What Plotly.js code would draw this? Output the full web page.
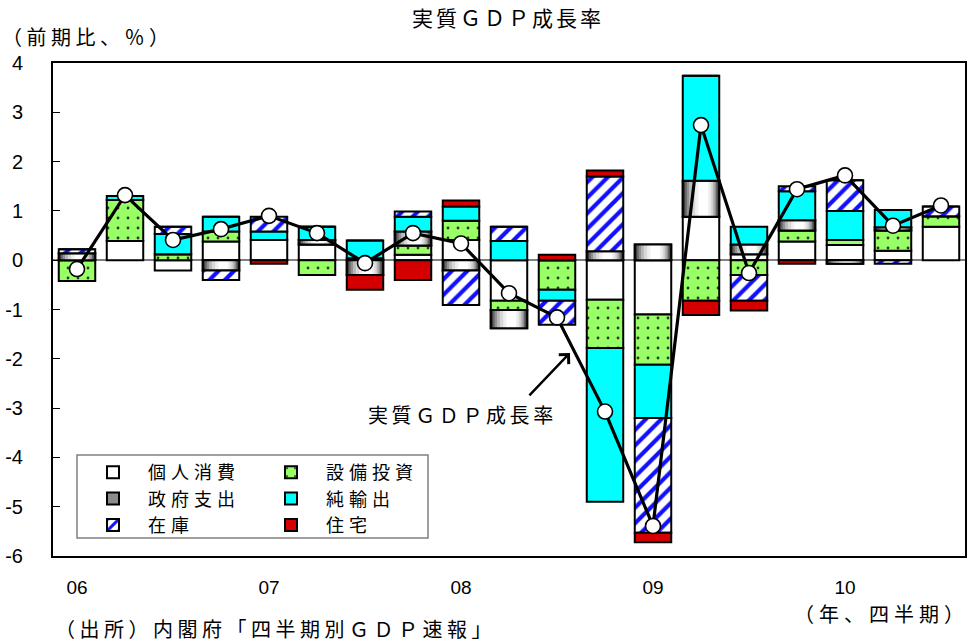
<!DOCTYPE html>
<html>
<head>
<meta charset="utf-8">
<script src="https://cdn.plot.ly/plotly-3.0.1.min.js"></script>
<style>
html,body{margin:0;padding:0;background:#ffffff;}
#chart{width:973px;height:642px;}
</style>
</head>
<body>
<div id="chart"></div>
<script>
// ---- data (contribution to real GDP growth, % q/q) ----
const quarters = ['06Q1','06Q2','06Q3','06Q4','07Q1','07Q2','07Q3','07Q4',
                  '08Q1','08Q2','08Q3','08Q4','09Q1','09Q2','09Q3','09Q4',
                  '10Q1','10Q2','10Q3'];
const consumption = [0, 0.39, -0.21, 0.38, 0.41, 0.32, 0.04, 0.11, 0.41, -0.82, 0, -0.80, -1.10, 0.88, 0.12, 0.38, 0.31, 0.19, 0.68];
const investment  = [-0.42, 0.83, 0.12, 0.20, 0, -0.30, 0, 0.19, 0.39, -0.19, -0.60, -0.98, -1.02, -0.82, -0.30, 0.22, 0.10, 0.41, 0.21];
const government  = [0.14, 0, 0, -0.21, 0, 0.09, -0.30, 0.28, -0.21, -0.37, 0, 0.18, 0.32, 0.73, 0.20, 0.21, -0.07, 0.07, 0];
const netExports  = [0, 0.08, 0.41, 0.30, 0.17, 0.27, 0.36, 0.30, 0.29, 0.39, -0.22, -3.12, -1.08, 2.13, 0.36, 0.59, 0.59, 0.35, 0];
const inventory   = [0.08, 0, 0.15, -0.19, 0.30, 0, 0, 0.11, -0.70, 0.29, -0.49, 1.52, -2.33, 0, -0.52, 0.10, 0.62, -0.07, 0.20];
const housing     = [0, 0, 0, 0, -0.07, 0, -0.30, -0.40, 0.12, 0, 0.11, 0.12, -0.19, -0.29, -0.20, -0.07, 0, 0, 0];
const gdpGrowth   = [-0.18, 1.32, 0.41, 0.63, 0.90, 0.55, -0.06, 0.55, 0.34, -0.67, -1.16, -3.07, -5.39, 2.74, -0.26, 1.44, 1.72, 0.70, 1.11];

const seriesNames = ['個人消費','設備投資','政府支出','純輸出','在庫','住宅'];
const lineName = '実質ＧＤＰ成長率';
const yearTickVals = ['06Q1','07Q1','08Q1','09Q1','10Q1'];
const yearTickText = ['06','07','08','09','10'];
const yRange = [-6, 4];
const yTickVals = [4, 3, 2, 1, 0, -1, -2, -3, -4, -5, -6];

const titleText = '実質ＧＤＰ成長率';
const unitText = '（前期比、％）';
const sourceText = '（出所）内閣府「四半期別ＧＤＰ速報」';
const periodText = '（年、四半期）';

// ---- styles ----
const jp = '"Noto Sans CJK JP", "Noto Sans", sans-serif';
const num = '"Liberation Sans", Arial, sans-serif';
const outline = {color: '#000000', width: 2};
const BAR_W = 0.76;
const spaced = (s, px) => '<span style="letter-spacing:' + px + 'px">' + s + '</span>';

// stacking (positive values stack upward, negative downward, in series order)
const stackOrder = [consumption, investment, government, netExports, inventory, housing];
const bases = (function () {
  const pos = quarters.map(() => 0), neg = quarters.map(() => 0);
  return stackOrder.map(vals => vals.map((v, i) => {
    let b;
    if (v >= 0) { b = pos[i]; pos[i] += v; } else { b = neg[i]; neg[i] += v; }
    return b;
  }));
})();

function barTrace(k, color, legendId, pattern) {
  const t = {
    type: 'bar', name: spaced(seriesNames[k], 5), x: quarters, y: stackOrder[k], base: bases[k],
    marker: {color: color, line: outline},
    legend: legendId, width: BAR_W, hoverinfo: 'skip'
  };
  if (pattern) t.marker.pattern = pattern;
  return t;
}

// horizontal grey gradient of 政府支出 drawn as nested bands (left, right as fraction of bar width)
const govBands = [
  [0.02, 0.98, '#3c3c3c'], [0.06, 0.95, '#656565'], [0.11, 0.91, '#909090'],
  [0.17, 0.87, '#b8b8b8'], [0.25, 0.82, '#d8d8d8'], [0.34, 0.76, '#efefef'],
  [0.43, 0.69, '#ffffff']
];
const govK = 2;
const govLayers = govBands.map(b => ({
  type: 'bar', x: quarters, y: government, base: bases[govK],
  width: (b[1] - b[0]) * BAR_W, offset: -BAR_W / 2 + b[0] * BAR_W,
  marker: {color: b[2], line: {width: 0}}, showlegend: false, hoverinfo: 'skip'
}));
const govOutline = {
  type: 'bar', x: quarters, y: government, base: bases[govK], width: BAR_W,
  marker: {color: 'rgba(0,0,0,0)', line: outline}, showlegend: false, hoverinfo: 'skip'
};

const traces = [
  barTrace(0, '#ffffff', 'legend'),
  barTrace(1, '#99ff66', 'legend2',
           {shape: '.', fgcolor: '#2b3b20', bgcolor: '#99ff66', size: 10, solidity: 0.06}),
  barTrace(2, '#8c8c8c', 'legend'),
  ...govLayers,
  govOutline,
  barTrace(3, '#00ffff', 'legend2'),
  barTrace(4, '#ffffff', 'legend',
           {shape: '/', fgcolor: '#1010ff', bgcolor: '#ffffff', size: 11, solidity: 0.38}),
  barTrace(5, '#d40000', 'legend2'),
  {
    type: 'scatter', mode: 'lines+markers', name: lineName,
    x: quarters, y: gdpGrowth, showlegend: false, hoverinfo: 'skip',
    line: {color: '#000000', width: 3.2},
    marker: {symbol: 'circle', size: 15, color: '#ffffff', line: {color: '#000000', width: 1.6}}
  }
];

const W = 973, H = 642;
const M = {l: 53, r: 8, t: 63, b: 86};
const plotW = W - M.l - M.r, plotH = H - M.t - M.b;
const px2fx = p => (p - M.l) / plotW;
const py2fy = p => (H - M.b - p) / plotH;
const zeroPos = (0 - yRange[0]) / (yRange[1] - yRange[0]);

const layout = {
  width: W, height: H,
  margin: M,
  paper_bgcolor: '#ffffff', plot_bgcolor: '#ffffff',
  barmode: 'overlay',
  showlegend: true,
  font: {family: jp, size: 18, color: '#000000'},
  title: {
    text: spaced(titleText, 3), font: {family: jp, size: 21, color: '#000000'},
    x: 508 / W, xref: 'container', xanchor: 'center',
    y: 1 - 19 / H, yref: 'container', yanchor: 'middle'
  },
  xaxis: {
    type: 'category', range: [-0.5, quarters.length - 0.5],
    tickmode: 'array', tickvals: yearTickVals, ticktext: yearTickText,
    ticks: '', showgrid: false, zeroline: false,
    showline: true, linecolor: '#000000', linewidth: 2, mirror: true,
    ticklabelstandoff: 13,
    tickfont: {family: num, size: 19, color: '#000000'}
  },
  xaxis2: {
    overlaying: 'x', anchor: 'free', position: zeroPos, side: 'bottom',
    range: [-0.5, quarters.length - 0.5], tick0: 0.5, dtick: 1,
    ticks: 'inside', ticklen: 6, tickwidth: 1.5, tickcolor: '#808080',
    showticklabels: false, showline: false, showgrid: false, zeroline: false
  },
  yaxis: {
    range: yRange, tickmode: 'array', tickvals: yTickVals,
    ticktext: yTickVals.map(v => String(v)),
    ticks: 'inside', ticklen: 7, tickwidth: 1, tickcolor: '#000000',
    showgrid: false, zeroline: true, zerolinecolor: '#808080', zerolinewidth: 1.5,
    showline: true, linecolor: '#000000', linewidth: 2, mirror: true,
    ticklabelstandoff: 24,
    tickfont: {family: num, size: 20, color: '#000000'}
  },
  legend: {
    x: px2fx(78), xanchor: 'left', y: py2fy(454), yanchor: 'top',
    orientation: 'v', bgcolor: 'rgba(0,0,0,0)', borderwidth: 0,
    itemwidth: 60, traceorder: 'normal',
    font: {family: jp, size: 18, color: '#000000'}
  },
  legend2: {
    x: px2fx(256), xanchor: 'left', y: py2fy(454), yanchor: 'top',
    orientation: 'v', bgcolor: 'rgba(0,0,0,0)', borderwidth: 0,
    itemwidth: 60, traceorder: 'normal',
    font: {family: jp, size: 18, color: '#000000'}
  },
  shapes: [{
    type: 'rect', xref: 'paper', yref: 'paper',
    x0: px2fx(77), x1: px2fx(428), y0: py2fy(455), y1: py2fy(538),
    line: {color: '#808080', width: 1.5}, fillcolor: 'rgba(0,0,0,0)'
  }],
  annotations: [
    {text: spaced(unitText, 4.5), xref: 'paper', yref: 'paper', x: px2fx(0), y: py2fy(37),
     xanchor: 'left', yanchor: 'middle', showarrow: false,
     font: {family: jp, size: 20, color: '#000000'}},
    {text: spaced(sourceText, 4.5), xref: 'paper', yref: 'paper', x: px2fx(53), y: py2fy(628),
     xanchor: 'left', yanchor: 'middle', showarrow: false,
     font: {family: jp, size: 20, color: '#000000'}},
    {text: spaced(periodText, 5), xref: 'paper', yref: 'paper', x: px2fx(971), y: py2fy(613),
     xanchor: 'right', yanchor: 'middle', showarrow: false,
     font: {family: jp, size: 20, color: '#000000'}},
    {text: '', xref: 'x', yref: 'y', x: 10.27, y: -1.88, ax: -42, ay: 44,
     showarrow: true, arrowhead: 4, arrowsize: 1.1, arrowwidth: 2.4, arrowcolor: '#000000'},
    {text: spaced(lineName, 3.6), xref: 'x', yref: 'y', x: 8.04, y: -3.12,
     xanchor: 'center', yanchor: 'middle', showarrow: false,
     font: {family: jp, size: 20, color: '#000000'}}
  ]
};

const config = {staticPlot: true, displayModeBar: false, responsive: false};
Plotly.newPlot('chart', traces, layout, config);
</script>
</body>
</html>
